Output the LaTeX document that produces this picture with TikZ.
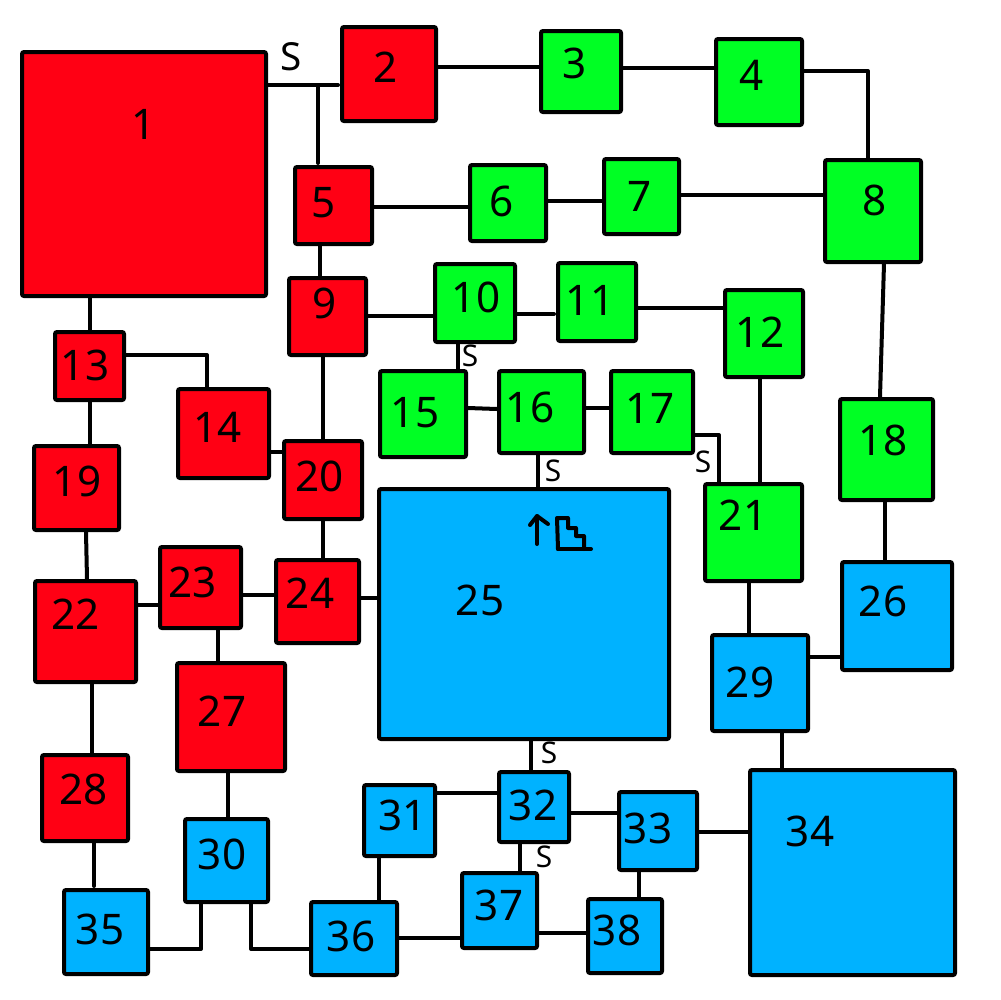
\documentclass[tikz,border=0pt]{standalone}
\usepackage{fontspec}
\setmainfont{Noto Sans}
\definecolor{roomred}{RGB}{255,0,20}
\definecolor{roomgreen}{RGB}{0,255,36}
\definecolor{roomblue}{RGB}{0,178,255}

\begin{document}
\begin{tikzpicture}[
x=0.1mm, y=-0.1mm,
room/.style 2 args={rectangle, draw=black, line width=0.4mm, rounded corners=0.2mm, inner sep=0pt, minimum width=#1*0.1mm, minimum height=#2*0.1mm},
redroom/.style 2 args={room={#1}{#2}, fill=roomred},
greenroom/.style 2 args={room={#1}{#2}, fill=roomgreen},
blueroom/.style 2 args={room={#1}{#2}, fill=roomblue},
numtext/.style={inner sep=0pt, font=\fontsize{12}{12}\selectfont},
stext/.style={inner sep=0pt, font=\fontsize{8.5}{8.5}\selectfont},
link/.style={line width=0.4mm, line cap=round, line join=round},
]
\useasboundingbox (0,0) rectangle (1000,1000);
%Rooms
\node[redroom={244}{244}] (r1) at (144,174) {};
\node[redroom={94}{94}] (r2) at (389,74) {};
\node[greenroom={80}{81}] (r3) at (581,71.5) {};
\node[greenroom={86}{86}] (r4) at (759,82) {};
\node[redroom={77}{77}] (r5) at (333.5,205.5) {};
\node[greenroom={76}{76}] (r6) at (508,203) {};
\node[greenroom={75}{75}] (r7) at (641.5,196.5) {};
\node[greenroom={96}{102}] (r8) at (873,211) {};
\node[redroom={77}{77}] (r9) at (327.5,316.5) {};
\node[greenroom={80}{78}] (r10) at (475,303) {};
\node[greenroom={78}{78}] (r11) at (597,302) {};
\node[greenroom={78}{87}] (r12) at (764,333.5) {};
\node[redroom={69}{68}] (r13) at (89.5,366) {};
\node[redroom={91}{89}] (r14) at (223.5,433.5) {};
\node[greenroom={86}{86}] (r15) at (423,414) {};
\node[greenroom={85}{82}] (r16) at (541.5,412) {};
\node[greenroom={82}{82}] (r17) at (652,412) {};
\node[greenroom={93}{101}] (r18) at (886.5,449.5) {};
\node[redroom={85}{84}] (r19) at (76.5,488) {};
\node[redroom={78}{78}] (r20) at (323,480) {};
\node[greenroom={97}{97}] (r21) at (753.5,532.5) {};
\node[redroom={101}{101}] (r22) at (85.5,631.5) {};
\node[redroom={81}{81}] (r23) at (200.5,587.5) {};
\node[redroom={83}{83}] (r24) at (317.5,601.5) {};
\node[blueroom={290}{250}] (r25) at (524,614) {};
\node[blueroom={110}{108}] (r26) at (897,616) {};
\node[redroom={108}{108}] (r27) at (231,717) {};
\node[redroom={86}{86}] (r28) at (85,798) {};
\node[blueroom={96}{96}] (r29) at (760,683) {};
\node[blueroom={83}{83}] (r30) at (226.5,860.5) {};
\node[blueroom={71}{71}] (r31) at (399.5,820.5) {};
\node[blueroom={70}{70}] (r32) at (534,807) {};
\node[blueroom={78}{78}] (r33) at (658,831) {};
\node[blueroom={205}{205}] (r34) at (852.5,872.5) {};
\node[blueroom={84}{84}] (r35) at (106,932) {};
\node[blueroom={86}{73}] (r36) at (354,938.5) {};
\node[blueroom={75}{75}] (r37) at (499.5,910.5) {};
\node[blueroom={74}{74}] (r38) at (625,936) {};

%Numbers
\foreach \num/\px/\py in {1/144/124, 2/386/67, 3/575/63, 4/752/75, 5/324/203, 6/502/201, 7/640/196, 8/875/200,
  9/325/303, 10/476/297, 11/590/300, 12/760/332, 13/85/365, 14/218/427, 15/415/413, 16/530/407, 17/650/408,
  18/883/440, 19/77/481, 20/320/476, 21/743/515, 22/76/614, 23/193/582, 24/310/593, 25/480/600, 26/883/601,
  27/222/711, 28/84/789, 29/750/682, 30/222/854, 31/403/815, 32/533/805, 33/648/828, 34/810/831, 35/100/929,
  36/351/936, 37/499/905, 38/617/930}
  \node[numtext] (n\num) at (\px,\py) {\num};

%Lines
\coordinate (j1) at (318,85);
\coordinate (j2) at (338,85);
\coordinate (j3) at (318,163);
\coordinate (j4) at (554,314);
\coordinate (j5) at (94,886);
\draw[link] (r1.east |- j1) -- (j2);
\draw[link] (j1) -- (j3);
\draw[link] (r2.east |- 0,67) -- (r3.west |- 0,67);
\draw[link] (r3.east |- 0,68) -- (r4.west |- 0,68);
\draw[link] (r4.east |- 0,71) -| (r8.north -| 868,0);
\draw[link] (r5.east |- 0,207) -- (r6.west |- 0,207);
\draw[link] (r6.east |- 0,201) -- (r7.west |- 0,201);
\draw[link] (r7.east |- 0,195) -- (r8.west |- 0,195);
\draw[link] (r5.south -| 320,0) -- (r9.north -| 320,0);
\draw[link] (r9.east |- 0,316) -- (r10.west |- 0,316);
\draw[link] (r10.east |- 0,314) -- (j4);
\draw[link] (r11.east |- 0,308) -- (r12.west |- 0,308);
\draw[link] (r10.south -| 458,0) -- (r15.north -| 458,0);
\draw[link] (r15.east |- 0,408) -- (r16.west |- 0,409);
\draw[link] (r16.east |- 0,408) -- (r17.west |- 0,408);
\draw[link] (r16.south -| 538,0) -- (r25.north -| 538,0);
\draw[link] (r17.east |- 0,435) -| (r21.north -| 719,0);
\draw[link] (r12.south -| 760,0) -- (r21.north -| 760,0);
\draw[link] (r8.south -| 884,0) -- (r18.north -| 880,0);
\draw[link] (r18.south -| 885,0) -- (r26.north -| 885,0);
\draw[link] (r21.south -| 749,0) -- (r29.north -| 749,0);
\draw[link] (r29.east |- 0,657) -- (r26.west |- 0,657);
\draw[link] (r29.south -| 782,0) -- (r34.north -| 782,0);
\draw[link] (r9.south -| 323,0) -- (r20.north -| 323,0);
\draw[link] (r14.east |- 0,452) -- (r20.west |- 0,452);
\draw[link] (r20.south -| 323,0) -- (r24.north -| 323,0);
\draw[link] (r24.east |- 0,598) -- (r25.west |- 0,598);
\draw[link] (r23.east |- 0,595) -- (r24.west |- 0,595);
\draw[link] (r22.east |- 0,605) -- (r23.west |- 0,605);
\draw[link] (r23.south -| 218,0) -- (r27.north -| 218,0);
\draw[link] (r1.south -| 90,0) -- (r13.north -| 90,0);
\draw[link] (r13.east |- 0,355) -| (r14.north -| 207,0);
\draw[link] (r13.south -| 90,0) -- (r19.north -| 90,0);
\draw[link] (r19.south -| 86,0) -- (r22.north -| 87,0);
\draw[link] (r22.south -| 92,0) -- (r28.north -| 92,0);
\draw[link] (r28.south -| 94,0) -- (j5);
\draw[link] (r27.south -| 228,0) -- (r30.north -| 228,0);
\draw[link] (r35.east |- 0,949) -| (r30.south -| 201,0);
\draw[link] (r30.south -| 251,0) |- (r36.west |- 0,949);
\draw[link] (r36.north -| 379,0) -- (r31.south -| 379,0);
\draw[link] (r36.east |- 0,938) -- (r37.west |- 0,938);
\draw[link] (r31.east |- 0,793) -- (r32.west |- 0,793);
\draw[link] (r25.south -| 531,0) -- (r32.north -| 531,0);
\draw[link] (r32.east |- 0,813) -- (r33.west |- 0,813);
\draw[link] (r32.south -| 520,0) -- (r37.north -| 520,0);
\draw[link] (r33.east |- 0,832) -- (r34.west |- 0,832);
\draw[link] (r33.south -| 639,0) -- (r38.north -| 639,0);
\draw[link] (r37.east |- 0,933) -- (r38.west |- 0,933);

%S marks
\node[stext, font=\fontsize{11}{11}\selectfont] (s1) at (291,57) {S};
\node[stext] (s2) at (470,356) {S};
\node[stext] (s3) at (553,471) {S};
\node[stext] (s4) at (703,462) {S};
\node[stext] (s5) at (549,753) {S};
\node[stext] (s6) at (544,857) {S};

%Stairs
\draw[link] (537,544) -- (537,516);
\draw[link] (530,525) -- (537,516) -- (548,524);
\draw[link] (558,549) -- (557,518) -- (568,518) -- (568,528) -- (576,528) -- (576,536) -- (584,536) -- (584,549);
\draw[link] (558,549) -- (591,549);
\end{tikzpicture}
\end{document}
